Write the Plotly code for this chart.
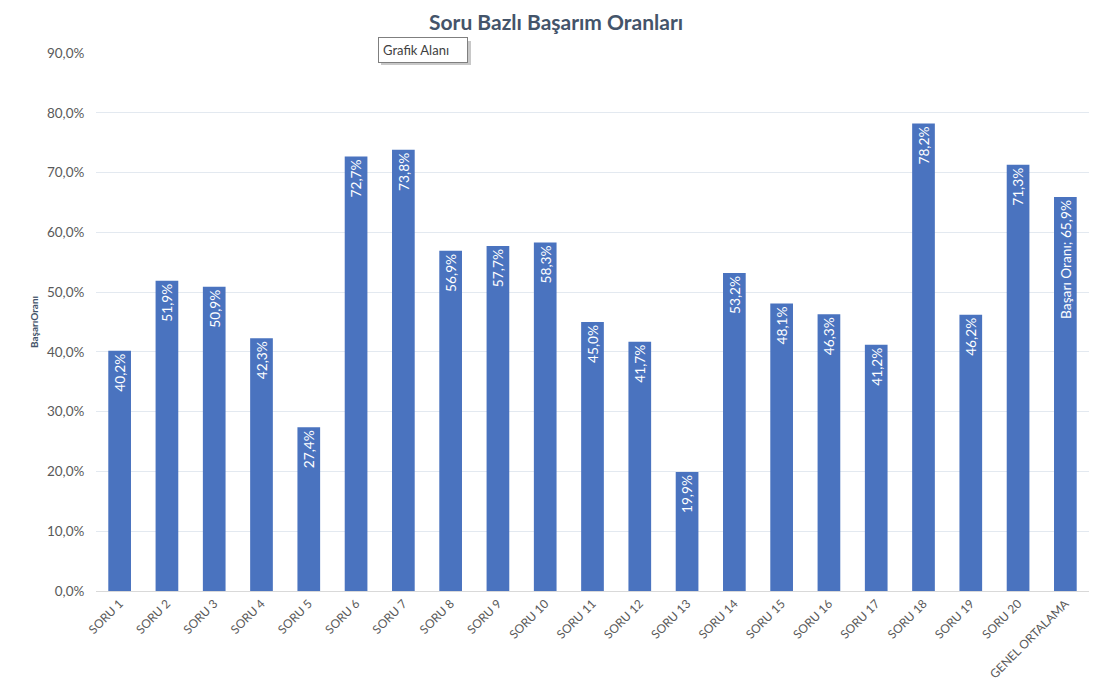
import plotly.graph_objects as go

categories = ["SORU 1", "SORU 2", "SORU 3", "SORU 4", "SORU 5", "SORU 6", "SORU 7",
              "SORU 8", "SORU 9", "SORU 10", "SORU 11", "SORU 12", "SORU 13", "SORU 14",
              "SORU 15", "SORU 16", "SORU 17", "SORU 18", "SORU 19", "SORU 20",
              "GENEL ORTALAMA"]
values = [40.2, 51.9, 50.9, 42.3, 27.4, 72.7, 73.8, 56.9, 57.7, 58.3, 45.0, 41.7,
          19.9, 53.2, 48.1, 46.3, 41.2, 78.2, 46.2, 71.3, 65.9]
label_prefix = [""] * 20 + ["Başarı Oranı; "]

fracs = [v / 100 for v in values]
labels = [p + f"{v:.1f}".replace(".", ",") + "%" for p, v in zip(label_prefix, values)]

FONT = "Lato, 'Open Sans', sans-serif"

OFF = 8  # default page body margin
W, H = 1099 - OFF, 697 - OFF
L, R, T, B = 96 - OFF, 10, 53 - OFF, 106
PW, PH = W - L - R, H - T - B


def px(x):  # page pixel -> paper x
    return (x - OFF - L) / PW


def py(y):  # page pixel -> paper y
    return (H - B - (y - OFF)) / PH


fig = go.Figure()
fig.add_trace(go.Bar(
    x=categories, y=fracs, text=labels,
    textposition="inside", insidetextanchor="end", textangle=-90,
    textfont=dict(color="white", size=14, family=FONT),
    marker=dict(color="#4a73bf", line=dict(width=0)),
    width=0.48, cliponaxis=False,
))

fig.update_layout(
    width=W, height=H,
    paper_bgcolor="white", plot_bgcolor="white",
    separators=",.",
    margin=dict(l=L, r=R, t=T, b=B),
    showlegend=False,
    uniformtext=dict(minsize=8, mode="show"),
    xaxis=dict(tickangle=-45, tickfont=dict(size=12, color="#595959", family=FONT),
               showgrid=False, showline=True, linecolor="#d9d9d9", ticks="",
               automargin=False),
    yaxis=dict(range=[0, 0.9], dtick=0.1, tickformat=".1%",
               tickfont=dict(size=13.5, color="#595959", family=FONT),
               gridcolor="#e3e9f0", zeroline=False, showline=False,
               ticklen=8, ticks="outside", tickcolor="white",
               automargin=False,
               title=dict(text="<b>BaşarıOranı</b>", standoff=6,
                          font=dict(size=10, color="#44546A", family=FONT))),
    shapes=[
        dict(type="line", xref="paper", yref="paper", x0=px(7), x1=px(7),
             y0=py(697), y1=py(8), line=dict(color="#e8e8e8", width=1)),
        dict(type="rect", xref="paper", yref="paper", x0=px(381), x1=px(471),
             y0=py(65), y1=py(41), line=dict(width=0), fillcolor="#c8c8c8"),
    ],
    annotations=[
        dict(text="<b>Soru Bazlı Başarım Oranları</b>", xref="paper", yref="paper",
             x=px(556), y=py(22), xanchor="center", yanchor="middle",
             showarrow=False, font=dict(size=21, color="#44546A", family=FONT)),
        dict(text="Grafik Alanı", xref="paper", yref="paper",
             x=px(378), y=py(50), xanchor="left", yanchor="middle",
             showarrow=False, bordercolor="#7f7f7f", borderwidth=1,
             borderpad=4, bgcolor="white", width=80, align="left",
             font=dict(size=13, color="#404040", family=FONT)),
    ],
)

fig.write_html("out.html")
